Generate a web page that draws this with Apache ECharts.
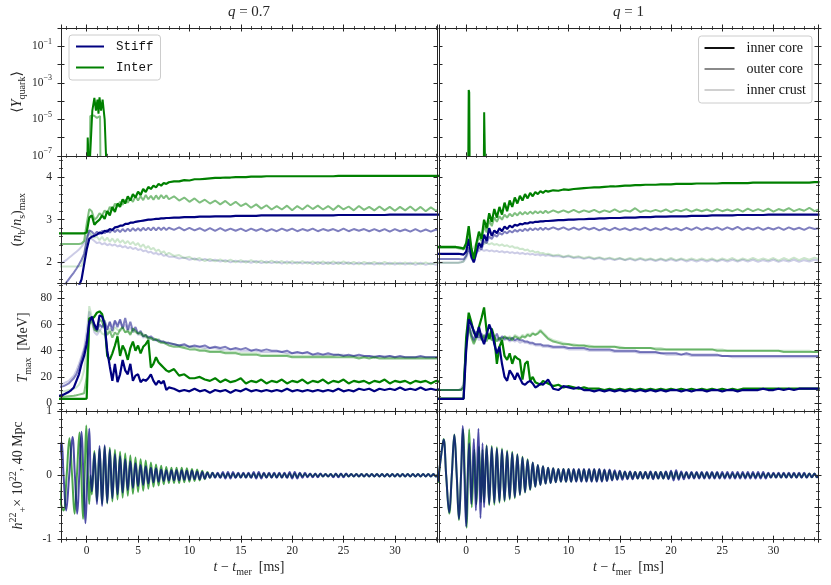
<!DOCTYPE html>
<html><head><meta charset="utf-8">
<script src="https://cdn.jsdelivr.net/npm/echarts/dist/echarts.min.js"></script>
<style>html,body{margin:0;padding:0;background:#fff}#chart{width:831px;height:585px}</style>
</head><body><div id="chart"></div>
<script>
// ---------------- DATA ----------------
// Rows 2 and 3 are sampled on two time grids (ms): early -3 … 8 step 0.25 (45 samples), late 8.5 … 34.5 step 0.5 (53 samples)
const EARLY_T0 = -3, EARLY_DT = 0.25;
const LATE_T0 = 8.5, LATE_DT = 0.5;

// ---- (n_b/n_s)_max, q = 0.7 ----
const densL_interCore_early = [
  2.68,2.68,2.68,2.68,2.68,2.68,2.68,2.68,
  2.68,2.68,2.68,2.68,2.70,3.05,3.10,2.88,
  2.95,3.00,3.10,3.02,3.20,3.10,3.30,3.18,
  3.38,3.30,3.48,3.38,3.55,3.45,3.60,3.52,
  3.66,3.58,3.72,3.65,3.77,3.72,3.80,3.76,
  3.84,3.80,3.86,3.84,3.88];
const densL_interCore_late = [
  3.90,3.90,3.93,3.92,3.95,3.95,3.96,3.97,3.98,3.98,
  3.99,3.99,4.00,4.00,4.00,4.01,4.01,4.01,4.02,4.02,
  4.02,4.02,4.02,4.02,4.02,4.02,4.02,4.02,4.02,4.02,
  4.02,4.02,4.03,4.03,4.03,4.03,4.03,4.03,4.03,4.03,
  4.03,4.03,4.03,4.03,4.03,4.03,4.03,4.03,4.03,4.03,
  4.03,4.03,4.03];
const densL_interOuter_early = [
  2.43,2.43,2.43,2.43,2.43,2.43,2.43,2.43,
  2.43,2.43,2.44,2.50,2.90,3.25,3.20,3.00,
  3.05,3.15,3.10,3.22,3.15,3.30,3.22,3.38,
  3.30,3.42,3.35,3.47,3.40,3.50,3.42,3.55,
  3.45,3.55,3.46,3.58,3.48,3.56,3.47,3.57,
  3.48,3.58,3.50,3.57,3.48];
const densL_interOuter_late = [
  3.55,3.45,3.52,3.42,3.50,3.40,3.47,3.38,3.45,3.36,
  3.44,3.34,3.42,3.32,3.38,3.28,3.36,3.26,3.34,3.24,
  3.32,3.24,3.33,3.22,3.32,3.24,3.34,3.25,3.33,3.24,
  3.32,3.23,3.33,3.24,3.31,3.22,3.32,3.23,3.30,3.22,
  3.31,3.22,3.30,3.21,3.30,3.22,3.31,3.21,3.30,3.20,
  3.29,3.21,3.28];
const densL_interCrust_early = [
  1.90,1.90,1.90,1.90,1.90,1.90,1.90,1.90,
  1.90,1.90,1.92,2.10,2.60,2.75,2.65,2.58,
  2.60,2.52,2.60,2.50,2.58,2.48,2.56,2.47,
  2.55,2.46,2.52,2.44,2.50,2.42,2.48,2.40,
  2.45,2.36,2.42,2.33,2.38,2.30,2.34,2.26,
  2.30,2.22,2.26,2.18,2.22];
const densL_interCrust_late = [
  2.15,2.17,2.10,2.13,2.06,2.10,2.03,2.08,2.02,2.07,
  2.01,2.06,2.00,2.05,1.99,2.05,1.99,2.04,1.98,2.04,
  1.98,2.03,1.97,2.03,1.97,2.03,1.97,2.02,1.96,2.02,
  1.96,2.02,1.96,2.02,1.96,2.01,1.95,2.01,1.96,2.01,
  1.95,2.01,1.95,2.00,1.95,2.00,1.95,2.00,1.95,2.00,
  1.95,2.00,1.96];
const densL_stiffCore_early = [
  0.90,0.95,1.00,1.05,1.10,1.15,1.20,1.28,
  1.36,1.45,1.60,1.95,2.30,2.55,2.60,2.62,
  2.65,2.70,2.68,2.74,2.72,2.78,2.76,2.82,
  2.83,2.86,2.86,2.90,2.90,2.93,2.93,2.95,
  2.96,2.97,2.98,2.99,3.00,3.00,3.01,3.02,
  3.02,3.03,3.03,3.04,3.04];
const densL_stiffCore_late = [
  3.05,3.05,3.06,3.06,3.06,3.07,3.07,3.07,3.08,3.08,
  3.08,3.08,3.09,3.09,3.09,3.09,3.09,3.10,3.10,3.10,
  3.10,3.10,3.10,3.10,3.10,3.10,3.10,3.10,3.10,3.10,
  3.10,3.10,3.11,3.11,3.11,3.11,3.11,3.11,3.11,3.11,
  3.11,3.11,3.12,3.12,3.12,3.12,3.12,3.12,3.12,3.12,
  3.12,3.12,3.12];
const densL_stiffOuter_early = [
  1.20,1.28,1.36,1.44,1.52,1.60,1.68,1.76,
  1.85,1.95,2.06,2.20,2.50,2.75,2.72,2.65,
  2.72,2.66,2.74,2.68,2.76,2.70,2.77,2.71,
  2.77,2.71,2.78,2.72,2.79,2.73,2.80,2.74,
  2.80,2.74,2.81,2.75,2.81,2.75,2.82,2.75,
  2.82,2.76,2.82,2.76,2.81];
const densL_stiffOuter_late = [
  2.76,2.82,2.75,2.81,2.75,2.80,2.74,2.80,2.74,2.80,
  2.74,2.79,2.74,2.79,2.73,2.79,2.74,2.79,2.73,2.78,
  2.73,2.79,2.74,2.79,2.73,2.78,2.74,2.79,2.73,2.78,
  2.74,2.78,2.73,2.79,2.73,2.78,2.74,2.78,2.73,2.78,
  2.73,2.78,2.72,2.78,2.73,2.77,2.72,2.78,2.72,2.77,
  2.72,2.77,2.73];
const densL_stiffCrust_early = [
  1.90,1.93,1.97,2.01,2.05,2.10,2.15,2.20,
  2.25,2.30,2.37,2.45,2.60,2.70,2.55,2.50,
  2.45,2.47,2.42,2.45,2.40,2.43,2.39,2.42,
  2.37,2.40,2.35,2.38,2.33,2.36,2.31,2.34,
  2.29,2.31,2.26,2.28,2.23,2.25,2.20,2.22,
  2.18,2.20,2.15,2.17,2.13];
const densL_stiffCrust_late = [
  2.13,2.09,2.11,2.06,2.09,2.04,2.08,2.03,2.06,2.02,
  2.05,2.00,2.04,2.00,2.03,1.99,2.03,1.98,2.02,1.98,
  2.02,1.97,2.02,1.97,2.01,1.97,2.01,1.96,2.01,1.96,
  2.00,1.96,2.00,1.96,2.00,1.95,2.00,1.95,1.99,1.95,
  1.99,1.95,1.99,1.95,1.99,1.95,1.99,1.94,1.99,1.94,
  1.98,1.94,1.98];

// ---- (n_b/n_s)_max, q = 1 ----
const densR_interCore_early = [
  2.36,2.36,2.36,2.36,2.36,2.36,2.36,2.36,
  2.36,2.35,2.34,2.32,2.45,2.85,2.35,2.08,
  2.45,2.72,2.55,3.00,2.80,3.15,2.95,3.25,
  3.05,3.30,3.12,3.40,3.20,3.45,3.30,3.52,
  3.38,3.56,3.45,3.60,3.50,3.63,3.55,3.65,
  3.60,3.67,3.63,3.68,3.66];
const densR_interCore_late = [
  3.69,3.68,3.71,3.70,3.72,3.73,3.74,3.75,3.76,3.76,
  3.77,3.78,3.78,3.79,3.80,3.80,3.81,3.81,3.82,3.82,
  3.82,3.83,3.83,3.83,3.84,3.84,3.84,3.84,3.85,3.85,
  3.85,3.85,3.85,3.86,3.86,3.86,3.86,3.86,3.86,3.87,
  3.87,3.87,3.87,3.87,3.87,3.87,3.87,3.87,3.87,3.87,
  3.87,3.88,3.88];
const densR_interOuter_early = [
  2.34,2.34,2.34,2.34,2.34,2.34,2.34,2.34,
  2.34,2.33,2.32,2.30,2.40,2.70,2.30,2.10,
  2.40,2.60,2.50,2.85,2.70,2.98,2.85,3.05,
  2.95,3.08,3.00,3.12,3.05,3.14,3.08,3.16,
  3.10,3.18,3.12,3.18,3.13,3.19,3.14,3.20,
  3.15,3.20,3.15,3.21,3.16];
const densR_interOuter_late = [
  3.22,3.17,3.22,3.17,3.23,3.17,3.22,3.18,3.23,3.17,
  3.22,3.18,3.24,3.18,3.22,3.19,3.27,3.18,3.22,3.19,
  3.23,3.19,3.24,3.18,3.23,3.20,3.25,3.19,3.24,3.20,
  3.24,3.19,3.25,3.20,3.24,3.20,3.25,3.19,3.26,3.20,
  3.25,3.20,3.26,3.19,3.25,3.21,3.27,3.20,3.25,3.21,
  3.28,3.20,3.25];
const densR_interCrust_early = [
  1.99,1.99,1.99,1.99,1.99,1.99,1.99,1.99,
  1.99,1.99,2.00,2.02,2.15,2.35,2.30,2.35,
  2.45,2.42,2.47,2.43,2.46,2.42,2.45,2.41,
  2.43,2.39,2.42,2.38,2.40,2.36,2.38,2.34,
  2.35,2.31,2.32,2.28,2.30,2.25,2.27,2.23,
  2.25,2.21,2.22,2.19,2.20];
const densR_interCrust_late = [
  2.16,2.18,2.13,2.16,2.12,2.14,2.10,2.13,2.09,2.12,
  2.08,2.11,2.07,2.10,2.06,2.10,2.06,2.10,2.06,2.09,
  2.05,2.09,2.05,2.10,2.05,2.09,2.05,2.09,2.05,2.09,
  2.05,2.09,2.04,2.09,2.05,2.10,2.04,2.09,2.05,2.10,
  2.05,2.09,2.05,2.10,2.04,2.10,2.05,2.11,2.05,2.10,
  2.06,2.11,2.07];
const densR_stiffCore_early = [
  2.20,2.20,2.20,2.20,2.20,2.20,2.20,2.20,
  2.20,2.20,2.19,2.18,2.25,2.55,2.15,2.00,
  2.25,2.45,2.35,2.65,2.50,2.80,2.62,2.75,
  2.68,2.80,2.73,2.84,2.78,2.86,2.82,2.88,
  2.86,2.90,2.89,2.92,2.91,2.94,2.93,2.95,
  2.95,2.96,2.96,2.97,2.97];
const densR_stiffCore_late = [
  2.98,2.99,2.99,3.00,3.00,3.01,3.01,3.02,3.02,3.03,
  3.03,3.04,3.04,3.04,3.05,3.05,3.05,3.06,3.06,3.06,
  3.07,3.07,3.07,3.08,3.08,3.08,3.08,3.09,3.09,3.09,
  3.09,3.10,3.10,3.10,3.10,3.10,3.11,3.11,3.11,3.11,
  3.11,3.11,3.12,3.12,3.12,3.12,3.12,3.12,3.12,3.12,
  3.12,3.12,3.12];
const densR_stiffOuter_early = [
  2.08,2.08,2.08,2.08,2.08,2.08,2.08,2.08,
  2.08,2.08,2.07,2.07,2.15,2.35,2.10,2.00,
  2.20,2.35,2.30,2.50,2.45,2.60,2.55,2.65,
  2.60,2.69,2.65,2.72,2.68,2.74,2.70,2.76,
  2.72,2.77,2.73,2.79,2.74,2.80,2.75,2.80,
  2.76,2.81,2.76,2.81,2.77];
const densR_stiffOuter_late = [
  2.82,2.77,2.82,2.76,2.81,2.76,2.82,2.77,2.81,2.75,
  2.80,2.75,2.81,2.76,2.80,2.75,2.80,2.76,2.81,2.75,
  2.80,2.76,2.81,2.76,2.80,2.75,2.81,2.76,2.82,2.76,
  2.81,2.77,2.82,2.76,2.82,2.77,2.83,2.76,2.81,2.77,
  2.82,2.76,2.81,2.77,2.82,2.76,2.82,2.77,2.81,2.76,
  2.82,2.78,2.80];
const densR_stiffCrust_early = [
  1.99,1.99,1.99,1.99,1.99,1.99,1.99,1.99,
  1.99,1.99,2.00,2.02,2.10,2.25,2.20,2.22,
  2.28,2.26,2.30,2.27,2.29,2.26,2.28,2.25,
  2.27,2.24,2.26,2.23,2.25,2.22,2.24,2.21,
  2.23,2.20,2.22,2.19,2.21,2.18,2.20,2.17,
  2.19,2.16,2.18,2.15,2.17];
const densR_stiffCrust_late = [
  2.14,2.15,2.12,2.14,2.10,2.12,2.08,2.11,2.07,2.10,
  2.06,2.09,2.05,2.09,2.05,2.08,2.04,2.08,2.04,2.07,
  2.03,2.07,2.03,2.07,2.03,2.07,2.02,2.06,2.02,2.06,
  2.02,2.06,2.02,2.06,2.02,2.06,2.02,2.06,2.02,2.06,
  2.01,2.05,2.02,2.06,2.01,2.05,2.02,2.06,2.01,2.05,
  2.02,2.06,2.03];

// ---- T_max [MeV], q = 0.7 ----
const tempL_interCore_early = [
  3.3,3.3,3.3,3.3,3.3,3.3,3.3,3.3,
  3.3,3.3,3.3,3.3,3.5,65,64,66,
  69,70,68,60,36,33,38,44,
  51,36,44,40,33,42,47,40,
  44,38,43,45,48,27,30,35,
  31,29,27,25,24];
const tempL_interCore_late = [
  26,21,22,19,19,20,18,17,19,16,
  18,16,17,19,15,17,16,18,15,17,
  16,18,15,17,16,18,15,17,16,18,
  15,17,16,18,15,17,16,17,15,17,
  16,18,15,17,16,17,15,17,16,17,
  15,17,16];
const tempL_interOuter_early = [
  4.5,4.6,4.7,4.8,5,5.2,5.4,5.6,
  6,6.5,7,7.5,20,60,63,56,
  55,64,62,57,52,55,50,54,
  52,56,58,54,55,52,57,55,
  53,54,51,52,49,50,48,49,
  47,46,46,45,44];
const tempL_interOuter_late = [
  43,43,42,41,41,40,40,39,39,39,
  38,38,38,37,37,37,37,36,36,36,
  36,36,36,35,35,35,35,35,35,35,
  35,35,35,35,35,35,34,35,34,35,
  34,34,34,34,34,34,34,34,34,34,
  34,34,34];
const tempL_interCrust_early = [
  8,8.5,9,9,9.5,10,10.5,11,
  12,14,18,25,40,74,66,58,
  54,56,53,52,55,57,54,58,
  56,55,57,54,56,53,55,54,
  53,52,53,50,51,49,50,48,
  49,47,47,46,46];
const tempL_interCrust_late = [
  45,44,43,43,42,41,41,40,40,40,
  39,39,39,38,38,38,38,37,37,37,
  37,37,37,36,36,36,36,36,36,36,
  36,36,37,36,36,36,35,35,35,35,
  35,35,35,35,35,35,35,35,35,35,
  35,35,35];
const tempL_stiffCore_early = [
  5,5.3,5.9,6.5,7.5,8.5,10,12,
  17,22,30,36,45,62,66,60,
  56,67,66,60,40,28,17,30,
  16,22,33,25,22,30,17,21,
  22,16,18,17,19,22,17,14,
  17,15,17,10,12];
const tempL_stiffCore_late = [
  11,9,10,9,11,9,10,8,10,9,
  10,8,10,9,11,9,10,9,10,9,
  10,9,11,9,10,9,10,9,10,9,
  10,9,11,9,10,9,11,10,11,9,
  11,10,11,10,12,10,11,10,12,10,
  11,10,11];
const tempL_stiffOuter_early = [
  11,12,12.5,13,14,15,17,19,
  22,27,33,40,48,60,66,58,
  55,60,58,63,56,62,55,63,
  58,64,57,65,56,62,55,58,
  53,55,51,52,50,51,49,48,
  48,47,47,46,46];
const tempL_stiffOuter_late = [
  45,44,45,43,44,43,44,42,43,42,
  43,41,42,41,42,40,41,40,41,40,
  40,39,40,38,39,38,39,37,38,37,
  38,37,37,36,37,36,37,36,36,35,
  36,35,36,35,36,35,35,35,36,35,
  35,35,35];
const tempL_stiffCrust_early = [
  13,14,14,15,16,17,19,21,
  25,30,36,42,55,70,62,54,
  52,55,58,60,56,62,58,63,
  60,63,57,60,55,58,54,56,
  52,53,50,51,49,49,48,48,
  47,47,46,46,45];
const tempL_stiffCrust_late = [
  45,44,44,43,43,43,42,42,42,41,
  41,41,41,40,40,40,40,39,39,39,
  39,39,38,38,38,38,38,37,37,37,
  37,37,37,37,36,36,36,36,36,36,
  36,36,36,35,35,35,35,35,35,35,
  35,35,35];

// ---- T_max [MeV], q = 1 ----
const tempR_interCore_early = [
  3.4,3.4,3.4,3.4,3.4,3.4,3.4,3.4,
  3.4,3.4,3.4,3.5,50,69,62,54,
  50,58,65,73,55,49,57,50,
  30,43,48,36,33,38,30,36,
  34,33,18,30,32,17,20,16,
  15,14,17,16,15];
const tempR_interCore_late = [
  13,14,12,13,12,11,12,11,11,11,
  10,11,10,11,10,11,10,11,10,11,
  10,11,10,11,10,11,10,11,10,11,
  10,11,10,11,10,11,10,11,11,11,
  11,11,11,11,11,11,11,11,11,11,
  11,11,11];
const tempR_interOuter_early = [
  10,10,10,10,10,10,10,10,
  10,10,10,12,40,58,50,45,
  50,55,48,52,47,53,48,50,
  47,50,48,51,49,50,48,51,
  50,49,51,50,52,51,53,52,
  53,55,53,51,49];
const tempR_interOuter_late = [
  47,46,45,45,44,44,44,43,43,43,
  43,43,43,42,42,42,42,42,42,42,
  41,41,41,41,41,41,41,41,41,41,
  41,41,40,40,40,40,40,40,40,40,
  40,40,40,40,40,39,39,39,39,39,
  39,39,39];
const tempR_interCrust_early = [
  10,10,10,10,10,10,10,10,
  10,10,11,14,45,60,52,46,
  50,54,49,52,48,51,48,50,
  48,50,49,51,50,51,49,52,
  51,50,52,51,53,52,54,52,
  54,56,54,52,50];
const tempR_interCrust_late = [
  48,47,46,45,45,44,44,44,43,43,
  43,43,43,43,42,42,42,42,42,42,
  42,42,41,41,41,41,41,41,41,41,
  41,41,41,41,40,40,40,40,40,40,
  40,40,40,40,40,40,40,40,40,40,
  40,39,39];
const tempR_stiffCore_early = [
  3.3,3.3,3.3,3.3,3.3,3.3,3.3,3.3,
  3.3,3.3,3.3,3.3,40,64,60,55,
  50,58,50,45,52,60,55,45,
  38,43,30,20,17,25,22,18,
  23,19,15,14,16,17,15,12,
  13,15,14,16,18];
const tempR_stiffCore_late = [
  11,10,13,12,11,12,10,10,9,10,
  9,10,9,10,9,10,9,10,9,10,
  9,10,9,10,10,9,10,9,10,10,
  9,10,10,9,10,10,9,10,10,10,
  10,11,10,10,11,10,11,10,11,11,
  11,11,11];
const tempR_stiffOuter_early = [
  10,10,10,10,10,10,10,10,
  10,10,10,12,45,60,52,48,
  55,50,53,48,54,50,52,49,
  53,48,51,49,50,48,50,48,
  49,48,48,47,47,46,46,45,
  45,45,44,44,44];
const tempR_stiffOuter_late = [
  43,43,43,42,42,42,42,41,41,41,
  41,41,40,40,40,40,40,39,39,39,
  39,38,38,38,38,37,38,37,37,37,
  37,37,37,36,36,36,36,36,36,36,
  36,36,36,36,36,36,36,36,36,36,
  36,36,36];
const tempR_stiffCrust_early = [
  10,10,10,10,10,10,10,10,
  10,10,11,14,50,62,55,47,
  52,48,51,47,52,49,51,48,
  50,47,50,48,49,47,48,47,
  48,46,47,46,46,45,45,44,
  44,44,43,43,43];
const tempR_stiffCrust_late = [
  42,42,42,41,41,41,41,40,40,40,
  40,40,39,39,39,39,39,38,38,38,
  38,38,37,37,37,37,37,36,36,36,
  36,36,36,36,36,35,35,35,35,35,
  35,35,35,35,35,35,35,35,35,35,
  35,35,35];

// ---- <Y_quark>, [t (ms), value] ----
const yquarkL_interCore = [[0.05,1e-8],[0.1,1e-6],[0.2,1e-6],[0.25,1e-8],[0.4,1e-8],[0.55,3e-5],[0.75,1.5e-4],[0.9,3e-5],[1.05,1.2e-4],[1.15,2e-5],[1.25,1.6e-4],[1.4,3e-5],[1.55,1.2e-4],[1.75,1e-5],[1.95,1e-8]];
const yquarkL_interOuter = [[0.3,1e-8],[0.35,1.5e-5],[0.7,1.6e-5],[1.0,1.2e-5],[1.3,1.5e-5],[1.35,1e-8]];
const yquarkR_interCore = [[0.2,1e-8],[0.25,4e-4],[0.3,3e-4],[0.35,1e-8],[1.72,1e-8],[1.76,2.4e-5],[1.82,2e-5],[1.86,1e-8]];

// ---- h_+^22 x 1e22 at 40 Mpc ----
// inspiral / merger, [t (ms), value]
const gwL_stiffPre = [[-2.7,0.25],[-2.45,0.52],[-2.25,0.0],[-2.0,-0.55],[-1.7,0.0],[-1.38,0.60],[-1.15,0.0],[-0.92,-0.60],[-0.72,0.0],[-0.5,0.68],[-0.32,0.0],[-0.12,-0.75],[0.06,0.0],[0.25,0.73],[0.38,0.0]];
const gwL_interPre = [[-2.7,0.0],[-2.5,-0.45],[-2.25,-0.55],[-1.95,0.0],[-1.68,0.58],[-1.42,0.0],[-1.18,-0.60],[-0.95,0.0],[-0.7,0.67],[-0.52,0.0],[-0.35,-0.68],[-0.2,0.0],[-0.04,0.78],[0.12,0.0],[0.25,-0.45],[0.38,0.0]];
const gwR_stiffPre = [[-2.75,-0.1],[-2.45,0.3],[-2.2,0.56],[-1.95,0.0],[-1.65,-0.58],[-1.4,0.0],[-1.15,0.63],[-0.92,0.0],[-0.7,-0.68],[-0.5,0.0],[-0.33,0.77],[-0.17,0.0],[0.0,-0.8],[0.15,0.0],[0.3,0.5],[0.5,-0.45],[0.75,0.57],[0.95,-0.55],[1.2,0.73],[1.4,-0.67],[1.6,0.5]];
const gwR_interPre = [[-2.75,-0.12],[-2.45,0.3],[-2.2,0.57],[-1.95,0.0],[-1.65,-0.6],[-1.4,0.0],[-1.15,0.64],[-0.92,0.0],[-0.7,-0.7],[-0.5,0.0],[-0.3,0.72],[-0.13,0.0],[0.05,-0.82],[0.18,0.0],[0.3,0.72],[0.55,-0.5],[0.8,0.4],[1.0,-0.45],[1.25,0.45],[1.45,-0.42],[1.6,0.4]];
// post-merger ringdown, uniform step 0.25 ms (left from 0.5 ms, right from 1.75 ms)
const GW_DT = 0.25, GW_L_T0 = 0.5, GW_R_T0 = 1.75;
const gwL_stiffPost = [
  -0.25,0.35,
  -0.45,0.46,-0.48,0.47,  -0.43,0.40,-0.36,0.33,  -0.30,0.30,-0.27,0.25,  -0.23,0.22,-0.20,0.19,
  -0.17,0.16,-0.15,0.14,  -0.13,0.12,-0.11,0.11,  -0.10,0.09,-0.09,0.08,  -0.08,0.08,-0.08,0.08,
  -0.08,0.08,-0.07,0.07,  -0.07,0.07,-0.06,0.06,  -0.06,0.05,-0.05,0.04,  -0.04,0.04,-0.04,0.04,
  -0.04,0.05,-0.05,0.05,  -0.05,0.05,-0.04,0.04,  -0.04,0.04,-0.04,0.04,  -0.04,0.05,-0.05,0.05,
  -0.05,0.04,-0.04,0.04,  -0.04,0.04,-0.04,0.04,  -0.04,0.04,-0.04,0.05,  -0.05,0.05,-0.05,0.04,
  -0.04,0.04,-0.03,0.03,  -0.03,0.03,-0.03,0.03,  -0.02,0.02,-0.02,0.02,  -0.03,0.03,-0.03,0.03,
  -0.03,0.03,-0.02,0.02,  -0.02,0.02,-0.02,0.02,  -0.02,0.02,-0.02,0.02,  -0.02,0.02,-0.02,0.02,
  -0.02,0.02,-0.02,0.02,  -0.02,0.02,-0.02,0.02,  -0.02,0.02,-0.02,0.02,  -0.02,0.02,-0.02,0.02,
  -0.02,0.02,-0.02,0.02,
  -0.02,0.02,-0.02];
const gwL_interPost = [
  -0.30,0.38,
  -0.40,0.42,-0.45,0.45,  -0.44,0.43,-0.41,0.40,  -0.38,0.37,-0.35,0.34,  -0.32,0.31,-0.29,0.28,
  -0.26,0.25,-0.24,0.23,  -0.21,0.20,-0.18,0.17,  -0.16,0.15,-0.14,0.13,  -0.12,0.12,-0.12,0.12,
  -0.12,0.12,-0.11,0.11,  -0.10,0.10,-0.09,0.09,  -0.08,0.07,-0.06,0.05,  -0.04,0.04,-0.03,0.03,
  -0.03,0.03,-0.03,0.03,  -0.03,0.03,-0.03,0.03,  -0.03,0.03,-0.03,0.03,  -0.03,0.03,-0.03,0.03,
  -0.03,0.03,-0.03,0.03,  -0.03,0.03,-0.03,0.03,  -0.03,0.03,-0.03,0.03,  -0.03,0.03,-0.03,0.03,
  -0.02,0.02,-0.02,0.02,  -0.02,0.02,-0.02,0.02,  -0.02,0.02,-0.02,0.02,  -0.02,0.02,-0.02,0.02,
  -0.02,0.02,-0.02,0.02,  -0.02,0.02,-0.02,0.02,  -0.02,0.02,-0.02,0.02,  -0.02,0.02,-0.02,0.02,
  -0.02,0.02,-0.02,0.02,  -0.02,0.02,-0.02,0.02,  -0.02,0.02,-0.02,0.02,  -0.02,0.02,-0.02,0.02,
  -0.02,0.02,-0.02,0.02,
  -0.02,0.02,-0.02];
const gwR_stiffPost = [
  -0.50,
  0.46,-0.45,0.44,-0.43,  0.42,-0.41,0.40,-0.39,  0.37,-0.36,0.35,-0.34,  0.32,-0.30,0.28,-0.26,
  0.24,-0.22,0.20,-0.18,  0.16,-0.15,0.14,-0.13,  0.12,-0.12,0.11,-0.11,  0.10,-0.10,0.10,-0.10,
  0.10,-0.10,0.10,-0.10,  0.10,-0.10,0.10,-0.10,  0.10,-0.10,0.10,-0.10,  0.10,-0.10,0.09,-0.09,
  0.09,-0.08,0.08,-0.07,  0.07,-0.07,0.06,-0.06,  0.06,-0.06,0.05,-0.05,  0.05,-0.05,0.05,-0.05,
  0.06,-0.06,0.05,-0.05,  0.05,-0.05,0.06,-0.06,  0.07,-0.08,0.08,-0.07,  0.06,-0.06,0.05,-0.05,
  0.05,-0.05,0.05,-0.05,  0.05,-0.05,0.05,-0.05,  0.05,-0.05,0.05,-0.05,  0.05,-0.05,0.05,-0.05,
  0.05,-0.05,0.05,-0.05,  0.05,-0.05,0.05,-0.05,  0.05,-0.05,0.05,-0.05,  0.05,-0.05,0.04,-0.04,
  0.04,-0.04,0.04,-0.04,  0.04,-0.04,0.04,-0.04,  0.04,-0.04,0.04,-0.04,  0.04,-0.04,0.03,-0.03,
  0.03,-0.03,0.03];
const gwR_interPost = [
  -0.42,
  0.47,-0.47,0.46,-0.46,  0.44,-0.43,0.42,-0.41,  0.39,-0.38,0.37,-0.36,  0.33,-0.31,0.29,-0.27,
  0.25,-0.23,0.20,-0.18,  0.16,-0.15,0.14,-0.13,  0.12,-0.12,0.11,-0.11,  0.10,-0.10,0.10,-0.10,
  0.10,-0.10,0.09,-0.09,  0.09,-0.09,0.09,-0.09,  0.09,-0.09,0.09,-0.09,  0.09,-0.09,0.08,-0.08,
  0.08,-0.07,0.06,-0.06,  0.06,-0.05,0.05,-0.05,  0.05,-0.05,0.05,-0.05,  0.05,-0.05,0.05,-0.05,
  0.05,-0.05,0.05,-0.05,  0.05,-0.05,0.05,-0.05,  0.05,-0.05,0.05,-0.05,  0.04,-0.04,0.04,-0.04,
  0.04,-0.04,0.04,-0.04,  0.04,-0.04,0.04,-0.04,  0.04,-0.04,0.04,-0.04,  0.03,-0.03,0.03,-0.03,
  0.03,-0.03,0.03,-0.03,  0.03,-0.03,0.03,-0.03,  0.03,-0.03,0.03,-0.03,  0.03,-0.03,0.03,-0.03,
  0.03,-0.03,0.03,-0.03,  0.03,-0.03,0.03,-0.03,  0.03,-0.03,0.03,-0.03,  0.03,-0.03,0.03,-0.03,
  0.03,-0.03,0.03];

// Tick label / legend text
const PANEL_TITLES = ['{it|q}{rm| = 0.7}', '{it|q}{rm| = 1}'];
const Y_NAMES = [
  '{rm|⟨}{it|Y}{sub|quark}{rm|⟩}',
  '{rm|(}{it|n}{sub|b}{rm|/}{it|n}{sub|s}{rm|)}{sub|max}',
  '{it|T}{sub|max}{rm|  [MeV]}',
  '{it|h}{sup|22}{sub|+}{rm|× 10}{sup|22}{rm|, 40 Mpc}'
];
const X_NAME = '{it|t}{rm| − }{it|t}{sub|mer}{rm|  [ms]}';
const EOS_NAMES = ['Stiff', 'Inter'];
const REGION_NAMES = ['inner core', 'outer core', 'inner crust'];

// ---------------- STYLE / LAYOUT ----------------
const NAVY = '#000080', GREEN = '#008000', INK = '#262626';
const SERIF = "'Liberation Serif','DejaVu Serif',serif";
const MONO = "'Liberation Mono','DejaVu Sans Mono',monospace";
const REGION_OPACITY = [1, 0.5, 0.2];
const COL_LEFT = [61, 439], COL_WIDTH = [376, 379];
const ROW_TOP0 = 28, ROW_H = 127.8;
const X_RANGE = [[-2.5, 34.1], [-2.65, 34.35]];

function rich(size) {
  const sub = Math.round(size * 0.7);
  const base = {fontFamily: SERIF, fontWeight: 'normal', color: INK};
  return {
    rm: Object.assign({}, base, {fontSize: size, lineHeight: size + 6, verticalAlign: 'middle'}),
    it: Object.assign({}, base, {fontStyle: 'italic', fontSize: size, lineHeight: size + 6, verticalAlign: 'middle'}),
    sub: Object.assign({}, base, {fontSize: sub, lineHeight: sub, verticalAlign: 'bottom'}),
    sup: Object.assign({}, base, {fontSize: sub, lineHeight: sub, verticalAlign: 'top'})
  };
}
const near = (v, step) => Math.abs(v / step - Math.round(v / step)) < 1e-6;
const ROWS = [
  {type: 'log', min: 1e-7, max: 1, nameGap: 34,
   fmt: v => { const e = Math.round(Math.log10(v)); return (Math.abs(e) % 2 === 1) ? '{rm|10}{sup|' + (e < 0 ? '−' : '') + Math.abs(e) + '}' : ''; }},
  {type: 'value', min: 1.5, max: 4.5, step: 1, minor: 5, nameGap: 34, fmt: v => near(v, 1) ? String(Math.round(v)) : ''},
  {type: 'value', min: -6.3, max: 91.2, step: 20, minor: 4, nameGap: 28, fmt: v => near(v, 20) ? String(Math.round(v)) : ''},
  {type: 'value', min: -1, max: 1, step: 0.5, minor: 4, nameGap: 33, fmt: v => near(v, 1) ? String(Math.round(v)) : ''}
];

const axisLineStyle = {color: INK, width: 1};
function mkX(g, c, position, inside, labels, name) {
  return {
    type: 'value', gridIndex: g, position, min: X_RANGE[c][0], max: X_RANGE[c][1],
    splitNumber: 7, minInterval: 5, maxInterval: 5, z: 5, silent: true,
    axisLine: {show: true, onZero: false, lineStyle: axisLineStyle},
    axisTick: {show: true, inside, length: 3.5, lineStyle: {color: INK, width: 1}},
    minorTick: {show: true, splitNumber: 5, length: 2, lineStyle: {color: INK, width: 0.8}},
    splitLine: {show: false}, minorSplitLine: {show: false},
    axisLabel: {show: labels, margin: 6, fontFamily: SERIF, fontSize: 11.5, color: INK,
      showMinLabel: true, showMaxLabel: true, formatter: v => near(v, 5) ? String(Math.round(v)) : ''},
    name: name || '', nameLocation: 'middle', nameGap: 18, nameMoveOverlap: false,
    nameTextStyle: {rich: rich(14)}
  };
}
function mkY(g, r, position, inside, labels, named) {
  const cfg = ROWS[r];
  const ax = {
    type: cfg.type, gridIndex: g, position, min: cfg.min, max: cfg.max, z: 5, silent: true,
    axisLine: {show: true, onZero: false, lineStyle: axisLineStyle},
    axisTick: {show: true, inside, length: 3.5, lineStyle: {color: INK, width: 1}},
    minorTick: {show: cfg.type !== 'log', splitNumber: cfg.minor || 5, length: 2, lineStyle: {color: INK, width: 0.8}},
    splitLine: {show: false}, minorSplitLine: {show: false},
    axisLabel: {show: labels, margin: 9, fontFamily: SERIF, fontSize: 11.5, color: INK,
      showMinLabel: true, showMaxLabel: true, formatter: cfg.fmt, rich: rich(11.5)},
    name: named ? Y_NAMES[r] : '', nameLocation: 'middle', nameGap: cfg.nameGap, nameRotate: 90,
    nameMoveOverlap: false, nameTextStyle: {rich: rich(14)}
  };
  if (cfg.type === 'log') { ax.logBase = 10; ax.splitNumber = 7; }
  else { ax.splitNumber = Math.round((cfg.max - cfg.min) / cfg.step); ax.minInterval = cfg.step; ax.maxInterval = cfg.step; }
  return ax;
}

const grids = [], xAxes = [], yAxes = [], series = [];
const primX = [], primY = [];
for (let r = 0; r < 4; r++) {
  for (let c = 0; c < 2; c++) {
    const g = r * 2 + c;
    grids.push({left: COL_LEFT[c], top: ROW_TOP0 + r * ROW_H, width: COL_WIDTH[c], height: ROW_H,
      containLabel: false, outerBoundsMode: 'none'});
    primX[g] = xAxes.length;
    xAxes.push(mkX(g, c, 'bottom', true, false));
    xAxes.push(mkX(g, c, 'top', true, false));
    if (r === 0) xAxes.push(mkX(g, c, 'top', false, false));
    if (r === 3) xAxes.push(mkX(g, c, 'bottom', false, true, X_NAME));
    primY[g] = yAxes.length;
    yAxes.push(mkY(g, r, 'left', true, false, false));
    yAxes.push(mkY(g, r, 'right', true, false, false));
    if (c === 0) yAxes.push(mkY(g, r, 'left', false, true, true));
    else yAxes.push(mkY(g, r, 'right', false, false, false));
  }
}

function gridded(early, late) {
  return early.map((v, i) => [EARLY_T0 + i * EARLY_DT, v])
    .concat(late.map((v, i) => [LATE_T0 + i * LATE_DT, v]));
}
function uniform(t0, dt, vals) { return vals.map((v, i) => [t0 + i * dt, v]); }
function addLine(name, g, data, color, opacity, width, smooth) {
  series.push({
    type: 'line', name, xAxisIndex: primX[g], yAxisIndex: primY[g], data,
    showSymbol: false, symbol: 'none', smooth: smooth || false, clip: true, z: 2,
    lineStyle: {color, opacity, width}, itemStyle: {color}, emphasis: {disabled: true}, silent: true
  });
}

// Row 1: quark fraction (only Inter has quarks)
addLine('Inter outer core q=0.7 Yq', 0, yquarkL_interOuter, GREEN, 0.5, 2);
addLine('Inter inner core q=0.7 Yq', 0, yquarkL_interCore, GREEN, 1, 2);
addLine('Inter inner core q=1 Yq', 1, yquarkR_interCore, GREEN, 1, 2);

// Rows 2 and 3
const panels = [
  {g: 2, tag: 'q=0.7 nb', d: [[densL_stiffCrust_early, densL_stiffCrust_late], [densL_interCrust_early, densL_interCrust_late],
    [densL_stiffOuter_early, densL_stiffOuter_late], [densL_interOuter_early, densL_interOuter_late],
    [densL_stiffCore_early, densL_stiffCore_late], [densL_interCore_early, densL_interCore_late]]},
  {g: 3, tag: 'q=1 nb', d: [[densR_stiffCrust_early, densR_stiffCrust_late], [densR_interCrust_early, densR_interCrust_late],
    [densR_stiffOuter_early, densR_stiffOuter_late], [densR_interOuter_early, densR_interOuter_late],
    [densR_stiffCore_early, densR_stiffCore_late], [densR_interCore_early, densR_interCore_late]]},
  {g: 4, tag: 'q=0.7 T', d: [[tempL_stiffCrust_early, tempL_stiffCrust_late], [tempL_interCrust_early, tempL_interCrust_late],
    [tempL_stiffOuter_early, tempL_stiffOuter_late], [tempL_interOuter_early, tempL_interOuter_late],
    [tempL_interCore_early, tempL_interCore_late], [tempL_stiffCore_early, tempL_stiffCore_late]]},
  {g: 5, tag: 'q=1 T', d: [[tempR_stiffCrust_early, tempR_stiffCrust_late], [tempR_interCrust_early, tempR_interCrust_late],
    [tempR_stiffOuter_early, tempR_stiffOuter_late], [tempR_interOuter_early, tempR_interOuter_late],
    [tempR_interCore_early, tempR_interCore_late], [tempR_stiffCore_early, tempR_stiffCore_late]]}
];
panels.forEach(p => {
  p.d.forEach((pair, k) => {
    const region = 2 - Math.floor(k / 2);          // crust, outer, core
    const isStiff = (p.tag.endsWith('T')) ? (k === 5 || (k < 4 && k % 2 === 0)) : (k % 2 === 0);
    const eos = isStiff ? 'Stiff' : 'Inter';
    addLine(eos + ' ' + REGION_NAMES[region] + ' ' + p.tag, p.g, gridded(pair[0], pair[1]),
      isStiff ? NAVY : GREEN, REGION_OPACITY[region], region === 0 ? 2.2 : 2);
  });
});

// Row 4: gravitational waves
addLine('Inter h+ q=0.7', 6, gwL_interPre.concat(uniform(GW_L_T0, GW_DT, gwL_interPost)), GREEN, 0.7, 2, 0.4);
addLine('Stiff h+ q=0.7', 6, gwL_stiffPre.concat(uniform(GW_L_T0, GW_DT, gwL_stiffPost)), NAVY, 0.7, 2, 0.4);
addLine('Inter h+ q=1', 7, gwR_interPre.concat(uniform(GW_R_T0, GW_DT, gwR_interPost)), GREEN, 0.7, 2, 0.4);
addLine('Stiff h+ q=1', 7, gwR_stiffPre.concat(uniform(GW_R_T0, GW_DT, gwR_stiffPost)), NAVY, 0.7, 2, 0.4);

// legend-only entries
[[EOS_NAMES[0], NAVY], [EOS_NAMES[1], GREEN], [REGION_NAMES[0], '#111111'], [REGION_NAMES[1], '#8a8a8a'], [REGION_NAMES[2], '#d0d0d0']]
  .forEach(([n, col]) => series.push({type: 'line', name: n, data: [], xAxisIndex: 0, yAxisIndex: 0, color: col,
    lineStyle: {color: col, width: 2}, itemStyle: {color: col}, showSymbol: false}));

const legendBase = {orient: 'vertical', icon: 'rect', itemHeight: 2, selectedMode: false,
  borderColor: '#cccccc', borderWidth: 1, borderRadius: 3, backgroundColor: 'rgba(255,255,255,0.85)'};

const option = {
  animation: false,
  backgroundColor: '#ffffff',
  title: PANEL_TITLES.map((t, c) => ({text: t, left: COL_LEFT[c] + COL_WIDTH[c] / 2, top: 2, textAlign: 'center', padding: 0,
    textStyle: {fontWeight: 'normal', rich: rich(15)}})),
  legend: [
    Object.assign({}, legendBase, {data: EOS_NAMES, left: 69, top: 35, itemWidth: 28, itemGap: 6, padding: [4, 7, 5, 7],
      textStyle: {fontFamily: MONO, fontSize: 12.5, color: '#111', lineHeight: 15, padding: [0, 0, 0, 7]}}),
    Object.assign({}, legendBase, {data: REGION_NAMES, right: 19, top: 36, itemWidth: 30, itemGap: 5, padding: [4, 6, 5, 6],
      textStyle: {fontFamily: SERIF, fontSize: 14, color: '#111', lineHeight: 16, padding: [0, 0, 0, 7]}})
  ],
  grid: grids, xAxis: xAxes, yAxis: yAxes, series
};
const chart = echarts.init(document.getElementById('chart'), null, {renderer: 'canvas'});
chart.setOption(option);
</script></body></html>
